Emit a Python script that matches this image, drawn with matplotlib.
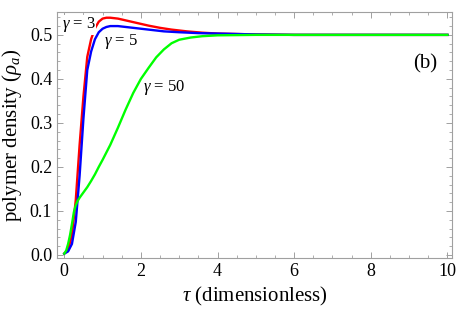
import matplotlib
matplotlib.use("Agg")
import matplotlib.pyplot as plt
from matplotlib.ticker import MultipleLocator

plt.rcParams['font.family'] = ['Liberation Serif', 'DejaVu Serif']
plt.rcParams['mathtext.fontset'] = 'custom'
plt.rcParams['mathtext.rm'] = 'Liberation Serif'
plt.rcParams['mathtext.it'] = 'Liberation Serif:italic'

# gamma = 3 (red)
tau_g3 = [0.0, 0.1, 0.2, 0.3, 0.4, 0.5, 0.6, 0.7, 0.8, 0.9, 1.0, 1.1, 1.2, 1.4,
          1.6, 1.8, 2.0, 2.2, 2.5, 2.8, 3.2, 3.6, 4.0, 4.5, 5.0, 6.0, 8.0, 10.0]
rho_g3 = [0.003, 0.012, 0.045, 0.125, 0.25, 0.36, 0.45, 0.49, 0.515, 0.53, 0.537, 0.539, 0.539, 0.537,
          0.533, 0.529, 0.525, 0.521, 0.516, 0.512, 0.508, 0.505, 0.503, 0.502, 0.501, 0.5, 0.5, 0.5]

# gamma = 5 (blue)
tau_g5 = [0.0, 0.1, 0.2, 0.3, 0.4, 0.5, 0.6, 0.7, 0.8, 0.9, 1.0, 1.1, 1.2, 1.4,
          1.6, 1.8, 2.0, 2.3, 2.6, 3.0, 3.5, 4.0, 4.5, 5.0, 6.0, 8.0, 10.0]
rho_g5 = [0.003, 0.008, 0.025, 0.075, 0.18, 0.31, 0.42, 0.462, 0.49, 0.506, 0.514, 0.518, 0.52, 0.52,
          0.518, 0.516, 0.514, 0.511, 0.508, 0.506, 0.504, 0.503, 0.502, 0.501, 0.5, 0.5, 0.5]

# gamma = 50 (green)
tau_g50 = [0.0, 0.05, 0.1, 0.15, 0.2, 0.25, 0.3, 0.35, 0.4, 0.5, 0.6, 0.7, 0.8, 0.9, 1.0,
           1.2, 1.4, 1.6, 1.8, 2.0, 2.2, 2.4, 2.6, 2.8, 3.0, 3.3, 3.6, 4.0, 4.5, 5.0, 6.0, 8.0, 10.0]
rho_g50 = [0.003, 0.01, 0.025, 0.045, 0.07, 0.097, 0.113, 0.123, 0.13, 0.142, 0.154, 0.168, 0.183, 0.2, 0.216,
           0.25, 0.289, 0.33, 0.368, 0.4, 0.425, 0.449, 0.467, 0.481, 0.489, 0.494, 0.497, 0.499, 0.4995, 0.5, 0.5, 0.5, 0.5]

fig = plt.figure(figsize=(4.57, 3.26), dpi=100)
ax = fig.add_axes([57/457, 1 - 258/326, (452-57)/457, (258-12)/326])

ax.plot(tau_g3, rho_g3, color=(1, 0, 0), lw=1.7, zorder=3, solid_joinstyle='round')
ax.plot(tau_g5, rho_g5, color=(0, 0, 1), lw=1.7, zorder=3, solid_joinstyle='round')
ax.plot(tau_g50, rho_g50, color=(0, 1, 0), lw=1.7, zorder=3, solid_joinstyle='round')

ax.set_xlim(-0.19, 10.12)
ax.set_ylim(-0.007, 0.552)

lab_kw = dict(fontsize=12, ha='center', va='center', zorder=4)
ax.text(0.37, 0.523, r'$\gamma$ = 3', bbox=dict(facecolor='white', edgecolor='none', pad=0.3), **lab_kw)
ax.text(1.47, 0.484, r'$\gamma$ = 5', **lab_kw)
ax.text(2.6, 0.38, r'$\gamma$ = 50', **lab_kw)
ax.text(9.41, 0.434, '(b)', fontsize=15, ha='center', va='center')

ax.set_xlabel(r'$\tau$ (dimensionless)', fontsize=15, labelpad=4)
ax.set_ylabel(r'polymer density ($\rho_a$)', fontsize=15, labelpad=4)

ax.xaxis.set_major_locator(MultipleLocator(2))
ax.xaxis.set_minor_locator(MultipleLocator(0.5))
ax.yaxis.set_minor_locator(MultipleLocator(0.02))
ax.set_yticks([0.0, 0.1, 0.2, 0.3, 0.4, 0.5])
ax.set_yticklabels(['0.0', '0.1', '0.2', '0.3', '0.4', '0.5'])

gray = '#a0a0a0'
for s in ax.spines.values():
    s.set_color(gray)
    s.set_linewidth(0.8)
ax.tick_params(which='both', direction='in', top=True, right=True, color=gray, labelsize=13)
ax.tick_params(which='major', length=4, width=0.7)
ax.tick_params(which='minor', length=2, width=0.6)

fig.savefig('out.png', dpi=100)
